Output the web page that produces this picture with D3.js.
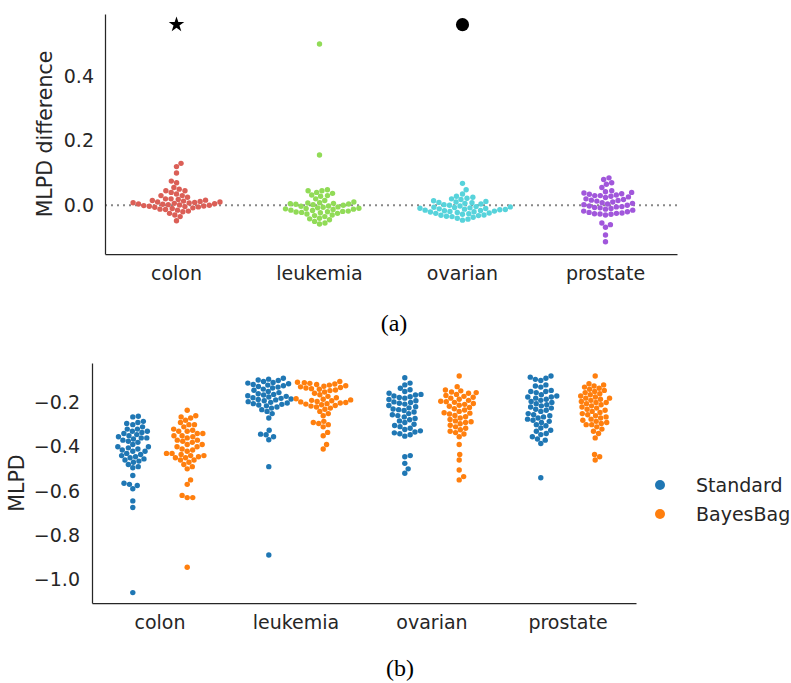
<!DOCTYPE html>
<html>
<head>
<meta charset="utf-8">
<script src="https://cdn.jsdelivr.net/npm/d3@7"></script>
<style>
  body { margin: 0; background: #fff; }
  text { font-family: "DejaVu Sans", sans-serif; fill: #262626; }
</style>
</head>
<body>
<svg id="chart" width="791" height="683"></svg>
<script>
const datasets = ["colon", "leukemia", "ovarian", "prostate"];
const diffColors = ["#db5f57", "#91db57", "#57d3db", "#a157db"];
const diffTicks = [0.0, 0.2, 0.4];

// panel (a): MLPD difference per dataset
const colonDiff = [0.13, 0.12, 0.10, 0.075, 0.07, 0.055, 0.05, 0.045, 0.045, 0.04, 0.035, 0.03, 0.03, 0.025, 0.02, 0.02, 0.018, 0.016, 0.015, 0.013, 0.012, 0.01, 0.01, 0.009, 0.008, 0.007, 0.006, 0.005, 0.004, 0.003, 0.002, 0.001, 0.0, -0.001, -0.002, -0.003, -0.004, -0.005, -0.006, -0.008, -0.01, -0.012, -0.013, -0.015, -0.018, -0.02, -0.025, -0.03, -0.035, -0.048];
const leukemiaDiff = [0.50, 0.156, 0.048, 0.045, 0.045, 0.04, 0.037, 0.032, 0.03, 0.028, 0.02, 0.015, 0.01, 0.008, 0.007, 0.006, 0.005, 0.004, 0.003, 0.002, 0.0, -0.002, -0.003, -0.005, -0.006, -0.008, -0.009, -0.01, -0.011, -0.012, -0.013, -0.015, -0.016, -0.018, -0.019, -0.02, -0.021, -0.022, -0.023, -0.025, -0.027, -0.03, -0.032, -0.035, -0.04, -0.042, -0.045, -0.05, -0.055, -0.058];
const ovarianDiff = [0.068, 0.048, 0.035, 0.028, 0.025, 0.022, 0.02, 0.018, 0.014, 0.012, 0.01, 0.009, 0.008, 0.006, 0.004, 0.002, 0.0, -0.002, -0.004, -0.005, -0.006, -0.007, -0.008, -0.009, -0.01, -0.011, -0.012, -0.013, -0.014, -0.015, -0.016, -0.017, -0.018, -0.019, -0.02, -0.021, -0.022, -0.024, -0.025, -0.026, -0.028, -0.03, -0.031, -0.032, -0.034, -0.035, -0.037, -0.04, -0.043, -0.046];
const prostateDiff = [0.085, 0.08, 0.07, 0.065, 0.055, 0.045, 0.042, 0.04, 0.038, 0.036, 0.034, 0.032, 0.03, 0.03, 0.028, 0.026, 0.024, 0.02, 0.018, 0.016, 0.015, 0.013, 0.01, 0.008, 0.006, 0.004, 0.002, 0.0, -0.002, -0.004, -0.005, -0.007, -0.008, -0.01, -0.012, -0.015, -0.018, -0.02, -0.022, -0.024, -0.025, -0.026, -0.027, -0.028, -0.03, -0.055, -0.06, -0.068, -0.092, -0.113];
const diffValues = [colonDiff, leukemiaDiff, ovarianDiff, prostateDiff];

// markers above the swarms
const markerDatasets = ["colon", "ovarian"];
const markerSymbols = ["star", "circle"];
const markerValue = 0.56;

// panel (b): MLPD per dataset and method
const methods = ["Standard", "BayesBag"];
const methodColors = ["#1f77b4", "#ff7f0e"];
const mlpdTicks = [-1.0, -0.8, -0.6, -0.4, -0.2];

const colonStd = [-0.262, -0.265, -0.285, -0.29, -0.295, -0.30, -0.31, -0.32, -0.32, -0.33, -0.33, -0.335, -0.34, -0.345, -0.35, -0.355, -0.36, -0.36, -0.365, -0.37, -0.375, -0.38, -0.39, -0.40, -0.40, -0.405, -0.41, -0.415, -0.42, -0.42, -0.43, -0.435, -0.44, -0.445, -0.45, -0.455, -0.46, -0.465, -0.47, -0.48, -0.49, -0.495, -0.53, -0.565, -0.57, -0.575, -0.59, -0.645, -0.675, -1.06];
const colonBag = [-0.235, -0.26, -0.265, -0.27, -0.28, -0.29, -0.30, -0.30, -0.31, -0.32, -0.325, -0.33, -0.33, -0.34, -0.34, -0.35, -0.35, -0.355, -0.36, -0.37, -0.37, -0.375, -0.38, -0.39, -0.39, -0.40, -0.40, -0.41, -0.415, -0.42, -0.43, -0.43, -0.435, -0.44, -0.44, -0.445, -0.45, -0.45, -0.46, -0.46, -0.47, -0.48, -0.49, -0.50, -0.55, -0.57, -0.62, -0.63, -0.63, -0.945];
const leukemiaStd = [-0.09, -0.094, -0.098, -0.1, -0.105, -0.109, -0.112, -0.115, -0.118, -0.121, -0.124, -0.127, -0.13, -0.134, -0.139, -0.144, -0.15, -0.155, -0.16, -0.163, -0.166, -0.169, -0.172, -0.175, -0.178, -0.181, -0.184, -0.186, -0.188, -0.192, -0.196, -0.199, -0.202, -0.205, -0.208, -0.211, -0.215, -0.22, -0.225, -0.232, -0.24, -0.25, -0.27, -0.325, -0.343, -0.346, -0.355, -0.368, -0.49, -0.89];
const leukemiaBag = [-0.105, -0.108, -0.11, -0.113, -0.116, -0.118, -0.121, -0.124, -0.126, -0.129, -0.132, -0.134, -0.137, -0.14, -0.143, -0.146, -0.152, -0.158, -0.165, -0.172, -0.178, -0.183, -0.185, -0.188, -0.19, -0.192, -0.195, -0.197, -0.2, -0.202, -0.205, -0.207, -0.21, -0.213, -0.216, -0.22, -0.225, -0.23, -0.24, -0.25, -0.26, -0.285, -0.29, -0.295, -0.30, -0.31, -0.335, -0.35, -0.39, -0.41];
const ovarianStd = [-0.088, -0.112, -0.12, -0.135, -0.142, -0.15, -0.158, -0.163, -0.166, -0.17, -0.174, -0.177, -0.18, -0.186, -0.192, -0.197, -0.2, -0.203, -0.207, -0.213, -0.219, -0.224, -0.229, -0.232, -0.236, -0.243, -0.25, -0.255, -0.259, -0.265, -0.272, -0.278, -0.283, -0.29, -0.298, -0.304, -0.309, -0.316, -0.322, -0.328, -0.333, -0.337, -0.341, -0.346, -0.352, -0.44, -0.445, -0.475, -0.50, -0.52];
const ovarianBag = [-0.08, -0.128, -0.143, -0.147, -0.152, -0.155, -0.158, -0.163, -0.168, -0.172, -0.176, -0.18, -0.185, -0.19, -0.194, -0.196, -0.199, -0.204, -0.208, -0.212, -0.217, -0.222, -0.228, -0.234, -0.24, -0.246, -0.248, -0.252, -0.258, -0.264, -0.27, -0.277, -0.283, -0.287, -0.29, -0.296, -0.303, -0.31, -0.316, -0.323, -0.33, -0.336, -0.342, -0.355, -0.39, -0.435, -0.46, -0.505, -0.535, -0.55];
const prostateStd = [-0.08, -0.085, -0.09, -0.095, -0.10, -0.12, -0.125, -0.13, -0.145, -0.15, -0.15, -0.155, -0.165, -0.17, -0.175, -0.175, -0.18, -0.185, -0.19, -0.195, -0.20, -0.205, -0.21, -0.215, -0.22, -0.225, -0.23, -0.235, -0.24, -0.25, -0.255, -0.26, -0.265, -0.27, -0.275, -0.28, -0.285, -0.29, -0.30, -0.305, -0.315, -0.325, -0.33, -0.34, -0.345, -0.355, -0.365, -0.37, -0.385, -0.54];
const prostateBag = [-0.08, -0.115, -0.12, -0.125, -0.13, -0.135, -0.14, -0.145, -0.15, -0.155, -0.16, -0.165, -0.17, -0.175, -0.18, -0.18, -0.185, -0.19, -0.195, -0.20, -0.20, -0.205, -0.21, -0.215, -0.22, -0.225, -0.23, -0.235, -0.24, -0.245, -0.25, -0.255, -0.26, -0.265, -0.27, -0.275, -0.28, -0.285, -0.29, -0.295, -0.30, -0.30, -0.31, -0.32, -0.33, -0.34, -0.36, -0.435, -0.445, -0.46];
const mlpdValues = [
  [colonStd, colonBag],
  [leukemiaStd, leukemiaBag],
  [ovarianStd, ovarianBag],
  [prostateStd, prostateBag]
];

const svg = d3.select("#chart");
const r = 2.7;
const gap = 5.55;

// beeswarm: place each point at the smallest offset that doesn't overlap
function swarm(values, y) {
  const pts = values.map(v => ({ v: v, y: y(v), x: 0 })).sort((a, b) => a.v - b.v);
  const placed = [];
  pts.forEach(p => {
    const near = placed.filter(q => Math.abs(q.y - p.y) < gap);
    const cands = [0];
    near.forEach(q => {
      const dx = Math.sqrt(gap * gap - (q.y - p.y) ** 2);
      cands.push(q.x + dx, q.x - dx);
    });
    cands.sort((a, b) => Math.abs(a) - Math.abs(b));
    for (const c of cands) {
      if (near.every(q => (q.x - c) ** 2 + (q.y - p.y) ** 2 >= gap * gap - 1e-6)) { p.x = c; break; }
    }
    placed.push(p);
  });
  return pts;
}

function styleAxis(g) {
  g.select(".domain").attr("stroke", "#262626").attr("stroke-width", 1.25);
  g.selectAll(".tick text").attr("font-size", 19).attr("fill", "#262626")
    .style("font-family", "'DejaVu Sans', sans-serif");
}

// ---------- panel (a) ----------
const ax = d3.scaleBand().domain(datasets).range([105, 677]);
const ay = d3.scaleLinear().domain([-0.151, 0.593]).range([254, 14]);

svg.append("line")
   .attr("x1", 105).attr("x2", 677)
   .attr("y1", ay(0)).attr("y2", ay(0))
   .attr("stroke", "#888").attr("stroke-width", 2)
   .attr("stroke-dasharray", "2,4");

datasets.forEach((name, i) => {
  const cx = ax(name) + ax.bandwidth() / 2;
  svg.append("g").selectAll("circle")
     .data(swarm(diffValues[i], ay))
     .enter()
     .append("circle")
     .attr("cx", d => cx + d.x)
     .attr("cy", d => d.y)
     .attr("r", r)
     .attr("fill", diffColors[i]);
});

markerDatasets.forEach((name, i) => {
  const cx = ax(name) + ax.bandwidth() / 2;
  const sym = markerSymbols[i] === "star" ? d3.symbolStar : d3.symbolCircle;
  const size = markerSymbols[i] === "star" ? 75 : 135;
  svg.append("path")
     .attr("d", d3.symbol().type(sym).size(size))
     .attr("transform", `translate(${cx}, ${ay(markerValue)})`)
     .attr("fill", "#000");
});

svg.append("g")
   .attr("transform", "translate(105, 0)")
   .call(d3.axisLeft(ay).tickValues(diffTicks).tickFormat(d3.format(".1f")).tickSize(0).tickPadding(11))
   .call(styleAxis);

svg.append("g")
   .attr("transform", "translate(0, 254)")
   .call(d3.axisBottom(ax).tickSize(0).tickPadding(13))
   .call(styleAxis);

svg.append("text")
   .attr("transform", "translate(52, 134) rotate(-90)")
   .attr("text-anchor", "middle")
   .attr("font-size", 20.5)
   .text("MLPD difference");

svg.append("text")
   .attr("x", 394).attr("y", 331)
   .attr("text-anchor", "middle")
   .attr("font-size", 24)
   .style("font-family", "'Liberation Serif', serif")
   .style("fill", "#000")
   .text("(a)");

// ---------- panel (b) ----------
const bx = d3.scaleBand().domain(datasets).range([92, 636]);
const by = d3.scaleLinear().domain([-1.107, -0.021]).range([603, 363]);
const hue = d3.scaleBand().domain(methods).range([-0.4, 0.4]);

datasets.forEach((name, i) => {
  methods.forEach((m, j) => {
    const cx = bx(name) + bx.bandwidth() / 2 + (hue(m) + hue.bandwidth() / 2) * bx.bandwidth();
    svg.append("g").selectAll("circle")
       .data(swarm(mlpdValues[i][j], by))
       .enter()
       .append("circle")
       .attr("cx", d => cx + d.x)
       .attr("cy", d => d.y)
       .attr("r", r)
       .attr("fill", methodColors[j]);
  });
});

svg.append("g")
   .attr("transform", "translate(92, 0)")
   .call(d3.axisLeft(by).tickValues(mlpdTicks).tickFormat(d3.format(".1f")).tickSize(0).tickPadding(12))
   .call(styleAxis);

svg.append("g")
   .attr("transform", "translate(0, 603)")
   .call(d3.axisBottom(bx).tickSize(0).tickPadding(13))
   .call(styleAxis);

svg.append("text")
   .attr("transform", "translate(24, 483) rotate(-90)")
   .attr("text-anchor", "middle")
   .attr("font-size", 20.5)
   .text("MLPD");

const legend = svg.append("g").selectAll("g")
   .data(methods)
   .enter()
   .append("g")
   .attr("transform", (d, i) => `translate(660, ${485 + i * 29})`);
legend.append("circle").attr("r", 5).attr("fill", (d, i) => methodColors[i]);
legend.append("text").attr("x", 36).attr("dy", "0.35em").attr("font-size", 19).text(d => d);

svg.append("text")
   .attr("x", 400).attr("y", 676)
   .attr("text-anchor", "middle")
   .attr("font-size", 24)
   .style("font-family", "'Liberation Serif', serif")
   .style("fill", "#000")
   .text("(b)");
</script>
</body>
</html>
